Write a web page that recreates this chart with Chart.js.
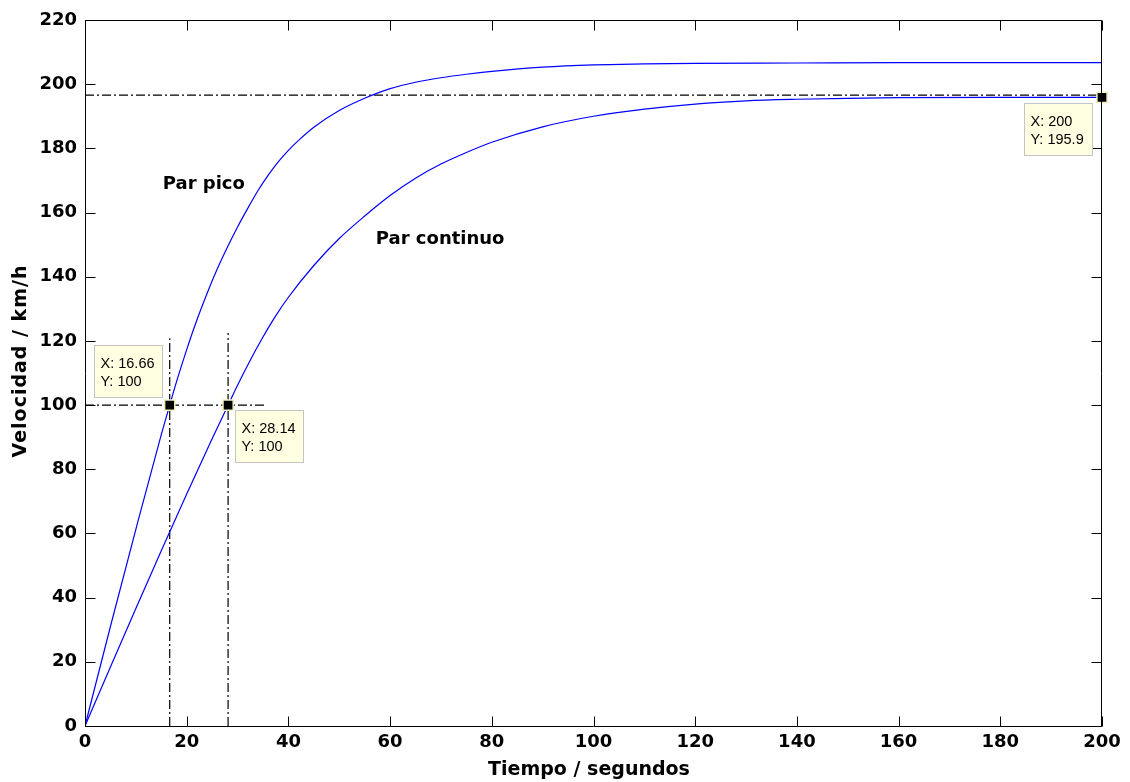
<!DOCTYPE html>
<html>
<head>
<meta charset="utf-8">
<script src="https://cdn.jsdelivr.net/npm/chart.js@4.4.1/dist/chart.umd.min.js"></script>
<style>
  html, body { margin: 0; padding: 0; background: #ffffff; }
  #wrap { width: 1130px; height: 782px; }
</style>
</head>
<body>
<div id="wrap"><canvas id="c" width="1130" height="782"></canvas></div>
<script>
// Speed response of the vehicle (km/h) against time (s)
const tiempoPico = [0, 5, 10, 15, 16.66, 18, 20, 22, 24, 26, 28, 30, 32, 34, 36, 38, 40, 42, 45, 50, 55, 60, 65, 70, 75, 80, 90, 100, 110, 120, 140, 160, 180, 200];
const velPico    = [0, 31, 61.3, 90.8, 100, 107.3, 117.3, 126.5, 134.8, 142.4, 149.2, 155.5, 161.3, 166.8, 171.6, 175.8, 179.4, 182.5, 186.6, 191.8, 195.6, 198.6, 200.6, 202, 203.1, 204, 205.3, 206, 206.3, 206.5, 206.6, 206.7, 206.7, 206.7];

const tiempoContinuo = [0, 5, 10, 15, 20, 25, 28.14, 30, 32.5, 35, 37.5, 40, 45, 50, 55, 60, 65, 70, 75, 80, 90, 100, 110, 120, 130, 140, 150, 160, 180, 200];
const velContinuo    = [0, 18.4, 36.6, 54.6, 72.3, 89.5, 100, 106.2, 114, 121.2, 127.8, 133.6, 143.5, 151.9, 158.9, 165.3, 170.7, 175.1, 178.7, 181.9, 186.7, 190, 192.2, 193.8, 194.8, 195.3, 195.6, 195.8, 195.9, 195.9];

// Data cursors
const cursorX = [16.66, 28.14, 200];
const cursorY = [100, 100, 195.9];

// Reference lines (dash-dot)
const guiaT100 = [0, 35.7];          // horizontal at 100 km/h
const guiaV100 = [100, 100];
const guiaPicoT = [16.66, 16.66];    // vertical at t = 16.66 s
const guiaPicoV = [0, 120.8];
const guiaContT = [28.14, 28.14];    // vertical at t = 28.14 s
const guiaContV = [0, 122.5];
const guiaFinalT = [0, 200];         // horizontal near final speed
const guiaFinalV = [196.6, 196.6];

const curveLabels = ['Par pico', 'Par continuo'];
const xTitle = 'Tiempo / segundos';
const yTitle = 'Velocidad / km/h';

const xTicks = [0, 20, 40, 60, 80, 100, 120, 140, 160, 180, 200];
const yTicks = [0, 20, 40, 60, 80, 100, 120, 140, 160, 180, 200, 220];

const pts = (xs, ys) => xs.map((x, i) => ({ x: x, y: ys[i] }));

const DASHDOT = [9, 3, 2, 3];
const guideStyle = {
  type: 'line', borderColor: '#000000', borderWidth: 1.2, borderDash: DASHDOT,
  pointRadius: 0, fill: false, tension: 0, order: 3
};
const curveStyle = {
  type: 'line', borderColor: '#0000ff', borderWidth: 1.2, pointRadius: 0,
  fill: false, cubicInterpolationMode: 'monotone', order: 2
};

// Frame, inward ticks, axis titles, curve names and data-cursor boxes
const decor = {
  id: 'decor',
  afterDatasetsDraw(chart) {
    const { ctx, chartArea: a, scales: { x, y } } = chart;
    ctx.save();
    ctx.strokeStyle = '#000000';
    ctx.lineWidth = 1;
    const L = Math.round(a.left) + 0.5, R = Math.round(a.right) - 0.5;
    const T = Math.round(a.top) + 0.5, B = Math.round(a.bottom) + 0.5;
    const TL = 10;
    ctx.beginPath();
    ctx.rect(L, T, R - L, B - T);
    xTicks.forEach(v => {
      const px = Math.round(x.getPixelForValue(v)) + 0.5;
      ctx.moveTo(px, B); ctx.lineTo(px, B - TL);
      ctx.moveTo(px, T); ctx.lineTo(px, T + TL);
    });
    yTicks.forEach(v => {
      const py = Math.round(y.getPixelForValue(v)) + 0.5;
      ctx.moveTo(L, py); ctx.lineTo(L + TL, py);
      ctx.moveTo(R, py); ctx.lineTo(R - TL, py);
    });
    ctx.stroke();

    // axis titles
    ctx.fillStyle = '#000000';
    ctx.font = 'bold 19px "DejaVu Sans"';
    ctx.textAlign = 'center';
    ctx.textBaseline = 'middle';
    ctx.fillText(xTitle, 589, 770);
    ctx.save();
    ctx.translate(21.5, 361);
    ctx.rotate(-Math.PI / 2);
    if ('letterSpacing' in ctx) ctx.letterSpacing = '1px';
    ctx.fillText(yTitle, 0, 0);
    ctx.restore();

    // curve names
    ctx.font = 'bold 18px "DejaVu Sans"';
    ctx.textAlign = 'left';
    ctx.textBaseline = 'alphabetic';
    const labelAt = [[15.3, 167.4], [57.2, 150.2]];
    curveLabels.forEach((s, i) => {
      ctx.fillText(s, x.getPixelForValue(labelAt[i][0]), y.getPixelForValue(labelAt[i][1]));
    });

    // data-cursor tip boxes
    const boxOffset = [[-76, -60], [7, 5], [-78, 6]];
    const W = 68, H = 52;
    ctx.font = '14.5px "Liberation Sans"';
    cursorX.forEach((cx, i) => {
      const px = x.getPixelForValue(cx), py = y.getPixelForValue(cursorY[i]);
      const bx = Math.round(px + boxOffset[i][0]) + 0.5;
      const by = Math.round(py + boxOffset[i][1]) + 0.5;
      ctx.fillStyle = '#ffffe1';
      ctx.strokeStyle = '#c4c4c4';
      ctx.fillRect(bx, by, W, H);
      ctx.strokeRect(bx, by, W, H);
      ctx.fillStyle = '#000000';
      ctx.fillText('X: ' + cx, bx + 6, by + 22);
      ctx.fillText('Y: ' + cursorY[i], bx + 6, by + 40);
    });
    ctx.restore();
  }
};

new Chart(document.getElementById('c'), {
  type: 'scatter',
  data: {
    datasets: [
      Object.assign({ label: 'Par pico', data: pts(tiempoPico, velPico) }, curveStyle),
      Object.assign({ label: 'Par continuo', data: pts(tiempoContinuo, velContinuo) }, curveStyle),
      Object.assign({ label: 'g1', data: pts(guiaT100, guiaV100) }, guideStyle),
      Object.assign({ label: 'g2', data: pts(guiaPicoT, guiaPicoV) }, guideStyle),
      Object.assign({ label: 'g3', data: pts(guiaContT, guiaContV) }, guideStyle),
      Object.assign({ label: 'g4', data: pts(guiaFinalT, guiaFinalV) }, guideStyle),
      {
        type: 'scatter', label: 'cursores', data: pts(cursorX, cursorY),
        pointStyle: 'rect', pointRadius: 7.2, backgroundColor: '#000000',
        borderColor: '#f4efbf', borderWidth: 1.5, order: 1, clip: false
      }
    ]
  },
  options: {
    responsive: false,
    animation: false,
    events: [],
    layout: { padding: { top: 20, right: 28, left: 0, bottom: 0 } },
    plugins: { legend: { display: false }, tooltip: { enabled: false } },
    scales: {
      x: {
        type: 'linear', min: 0, max: 200,
        afterBuildTicks: s => { s.ticks = xTicks.map(v => ({ value: v })); },
        afterFit: s => { s.height = 56; },
        grid: { display: false, drawTicks: false },
        border: { display: false },
        ticks: { padding: 6, color: '#000', font: { family: 'DejaVu Sans', weight: 'bold', size: 18 } },
        title: { display: false }
      },
      y: {
        type: 'linear', min: 0, max: 220,
        afterBuildTicks: s => { s.ticks = yTicks.map(v => ({ value: v })); },
        afterFit: s => { s.width = 85; },
        grid: { display: false, drawTicks: false },
        border: { display: false },
        ticks: { padding: 8, color: '#000', font: { family: 'DejaVu Sans', weight: 'bold', size: 18 } },
        title: { display: false }
      }
    }
  },
  plugins: [decor]
});
</script>
</body>
</html>
